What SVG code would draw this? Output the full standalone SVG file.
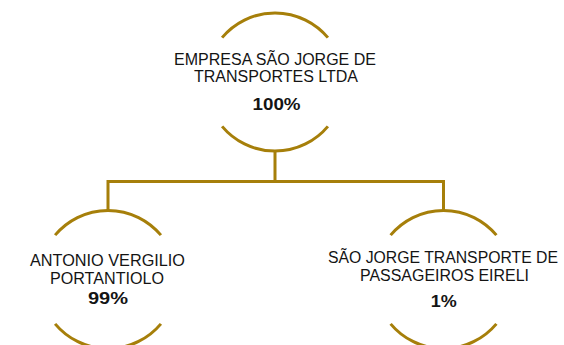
<svg xmlns="http://www.w3.org/2000/svg" width="564" height="345" viewBox="0 0 564 345">
<style>
.ring{fill:none;stroke:#a67f0a;stroke-width:3}
.conn{fill:none;stroke:#a67f0a;stroke-width:3}
.t{font-family:"Liberation Sans",Arial,sans-serif;font-size:16px;fill:#141414;text-anchor:middle}
.p{font-family:"Liberation Sans",Arial,sans-serif;font-size:16px;font-weight:bold;fill:#141414;text-anchor:middle}
</style>
<rect width="564" height="345" fill="#ffffff"/>
<g id="connectors">
<path class="conn" d="M275 151 V181.5 M108 210.5 V181.5 H443.5 V210.5"/>
</g>
<g id="node-empresa">
<path class="ring" d="M222.1 37.6 A69 69 0 0 1 327.9 37.6 M222.1 126.4 A69 69 0 0 0 327.9 126.4"/>
<text class="t" x="275" y="65" textLength="202" lengthAdjust="spacingAndGlyphs">EMPRESA SÃO JORGE DE</text>
<text class="t" x="276" y="82" textLength="164" lengthAdjust="spacingAndGlyphs">TRANSPORTES LTDA</text>
<text class="p" x="276.5" y="110" textLength="48" lengthAdjust="spacingAndGlyphs">100%</text>
</g>
<g id="node-antonio">
<path class="ring" d="M55.1 235.1 A69 69 0 0 1 160.9 235.1 M55.1 323.9 A69 69 0 0 0 160.9 323.9"/>
<text class="t" x="107.5" y="265.5" textLength="155" lengthAdjust="spacingAndGlyphs">ANTONIO VERGILIO</text>
<text class="t" x="107" y="284" textLength="114" lengthAdjust="spacingAndGlyphs">PORTANTIOLO</text>
<text class="p" x="108" y="304" textLength="40" lengthAdjust="spacingAndGlyphs">99%</text>
</g>
<g id="node-saojorge">
<path class="ring" d="M390.6 235.1 A69 69 0 0 1 496.4 235.1 M390.6 323.9 A69 69 0 0 0 496.4 323.9"/>
<text class="t" x="443" y="262.5" textLength="230" lengthAdjust="spacingAndGlyphs">SÃO JORGE TRANSPORTE DE</text>
<text class="t" x="444.5" y="281" textLength="169" lengthAdjust="spacingAndGlyphs">PASSAGEIROS EIRELI</text>
<text class="p" x="443.7" y="306.5" textLength="26" lengthAdjust="spacingAndGlyphs">1%</text>
</g>
</svg>
